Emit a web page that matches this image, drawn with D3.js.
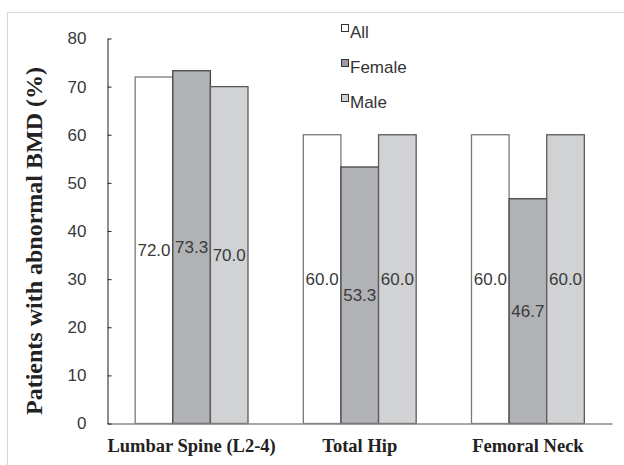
<!DOCTYPE html>
<html>
<head>
<meta charset="utf-8">
<script src="https://cdn.jsdelivr.net/npm/d3@7"></script>
<style>
  html, body { margin: 0; padding: 0; background: #fff; }
  svg { display: block; }
</style>
</head>
<body>
<svg id="chart" width="624" height="465"></svg>
<script>
const categories = ["Lumbar Spine (L2-4)", "Total Hip", "Femoral Neck"];
const seriesNames = ["All", "Female", "Male"];
const allValues = [72.0, 60.0, 60.0];
const femaleValues = [73.3, 53.3, 46.7];
const maleValues = [70.0, 60.0, 60.0];
const yTicks = [0, 10, 20, 30, 40, 50, 60, 70, 80];
const yTitle = "Patients with abnormal BMD (%)";

(function () {
const seriesValues = { "All": allValues, "Female": femaleValues, "Male": maleValues };
const fills = { "All": "#ffffff", "Female": "#b1b2b5", "Male": "#d1d2d4" };
const strokes = { "All": "#7a7a7a", "Female": "#454545", "Male": "#5a5a5a" };
const legendFills = { "All": "#ffffff", "Female": "#9c9c9e", "Male": "#d0d0d0" };

const svg = d3.select("#chart");

// outer frame
svg.append("rect").attr("x", 7.5).attr("y", 12.5).attr("width", 700).attr("height", 500)
  .attr("fill", "none").attr("stroke", "#dadada").attr("stroke-width", 1.2);

const plotLeft = 107.5, plotRight = 612, plotTop = 38.5, plotBottom = 423.5;

const y = d3.scaleLinear().domain([0, 80]).range([plotBottom, plotTop]);
const x0 = d3.scaleBand().domain(categories).range([plotLeft, plotRight]).padding(0);
const groupW = x0.bandwidth() * 0.671;
const x1 = d3.scaleBand().domain(seriesNames).range([0, groupW]).padding(0);
const off = (x0.bandwidth() - groupW) / 2;

const rows = [];
categories.forEach((c, i) => seriesNames.forEach(s => rows.push({ c, s, v: seriesValues[s][i] })));

// bars
svg.append("g").selectAll("rect").data(rows).join("rect")
  .attr("x", d => x0(d.c) + off + x1(d.s))
  .attr("y", d => y(d.v))
  .attr("width", x1.bandwidth())
  .attr("height", d => y(0) - y(d.v))
  .attr("fill", d => fills[d.s])
  .attr("stroke", d => strokes[d.s])
  .attr("stroke-width", 1.3);

// value labels
svg.append("g").selectAll("text").data(rows).join("text")
  .attr("x", d => x0(d.c) + off + x1(d.s) + x1.bandwidth() / 2)
  .attr("y", d => y(d.v / 2))
  .attr("dy", "0.36em")
  .attr("text-anchor", "middle")
  .attr("font-family", "Liberation Sans, Arial, sans-serif")
  .attr("font-size", 17)
  .attr("fill", "#3a3a3a")
  .text(d => d.v.toFixed(1));

// x axis
const xAxis = svg.append("g").attr("transform", `translate(0,${plotBottom})`)
  .call(d3.axisBottom(x0).tickSize(0).tickPadding(15));
xAxis.select(".domain").attr("stroke", "#8a8a8a").attr("stroke-width", 1.6);
xAxis.selectAll("text")
  .attr("font-family", "Liberation Serif, Times New Roman, serif")
  .attr("font-weight", "bold")
  .attr("font-size", 18.5)
  .attr("fill", "#222");

// y axis
const yAxis = svg.append("g").attr("transform", `translate(${plotLeft},0)`)
  .call(d3.axisLeft(y).tickValues(yTicks).tickSizeInner(-4).tickSizeOuter(0).tickPadding(21));
yAxis.select(".domain").attr("stroke", "#333").attr("stroke-width", 1.1);
yAxis.selectAll(".tick line").attr("stroke", "#333").attr("stroke-width", 1.1);
yAxis.selectAll("text")
  .attr("font-family", "Liberation Sans, Arial, sans-serif")
  .attr("font-size", 17)
  .attr("fill", "#3a3a3a");

// y title
svg.append("text")
  .attr("transform", `translate(42,${(plotTop + plotBottom) / 2 + 10}) rotate(-90)`)
  .attr("text-anchor", "middle")
  .attr("font-family", "Liberation Serif, Times New Roman, serif")
  .attr("font-weight", "bold")
  .attr("font-size", 24)
  .attr("fill", "#222")
  .text(yTitle);

// legend
const legend = svg.append("g");
const legY = d3.scalePoint().domain(seriesNames).range([28, 98]);
seriesNames.forEach(s => {
  const g = legend.append("g");
  g.append("rect").attr("x", 341.5).attr("y", legY(s) - 3.5).attr("width", 7).attr("height", 7)
    .attr("fill", legendFills[s]).attr("stroke", "#333").attr("stroke-width", 1);
  g.append("text").attr("x", 350).attr("y", legY(s) + 10)
    .attr("font-family", "Liberation Sans, Arial, sans-serif")
    .attr("font-size", 17)
    .attr("fill", "#333")
    .text(s);
});
})();
</script>
</body>
</html>
